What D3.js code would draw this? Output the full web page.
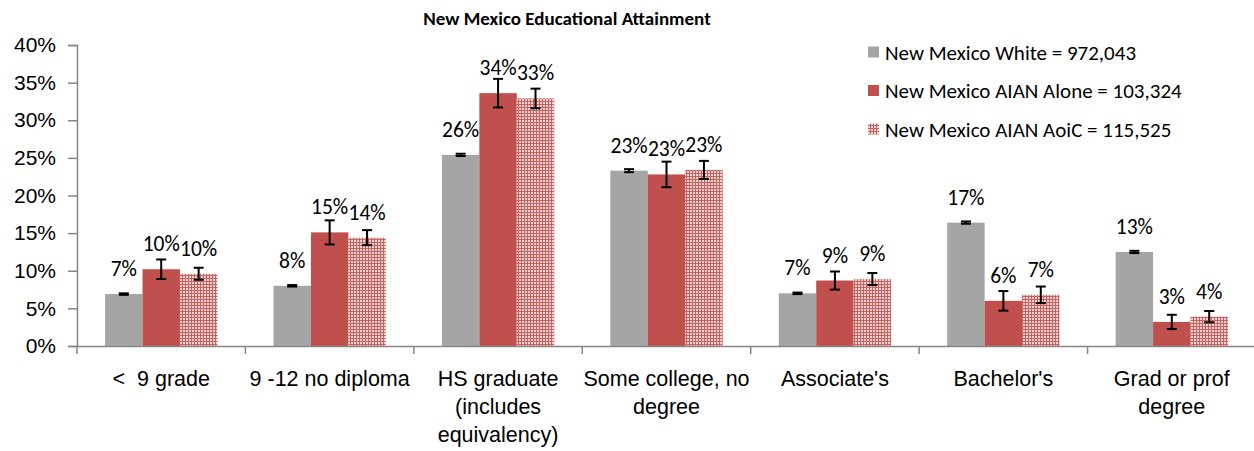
<!DOCTYPE html>
<html>
<head>
<meta charset="utf-8">
<script src="https://cdn.jsdelivr.net/npm/d3@7"></script>
<style>
    body { margin: 0; background: #fff; }
    svg { display: block; font-family: Carlito, Calibri, Lato, sans-serif; }
</style>
</head>
<body>
<div class="svg-target"></div>
<script>
// Data
const categories = ['<  9 grade', '9 -12 no diploma', 'HS graduate\n(includes\nequivalency)',
    'Some college, no\ndegree', "Associate's", "Bachelor's", 'Grad or prof\ndegree'];
const seriesNames = ['New Mexico White = 972,043', 'New Mexico AIAN Alone = 103,324', 'New Mexico AIAN AoiC = 115,525'];
const whiteVals = [0.069, 0.080, 0.254, 0.233, 0.070, 0.164, 0.125];
const aloneVals = [0.102, 0.151, 0.336, 0.228, 0.087, 0.060, 0.032];
const aoicVals  = [0.096, 0.144, 0.329, 0.234, 0.089, 0.068, 0.039];
const whiteErr = [0.001, 0.001, 0.0015, 0.002, 0.001, 0.0015, 0.0015];
const aloneErr = [0.013, 0.016, 0.019, 0.017, 0.012, 0.013, 0.0095];
const aoicErr  = [0.008, 0.010, 0.013, 0.012, 0.008, 0.011, 0.0075];
const labelText = [
    ['7%', '8%', '26%', '23%', '7%', '17%', '13%'],
    ['10%', '15%', '34%', '23%', '9%', '6%', '3%'],
    ['10%', '14%', '33%', '23%', '9%', '7%', '4%']
];
const yTicks = [0, 0.05, 0.10, 0.15, 0.20, 0.25, 0.30, 0.35, 0.40];

const w = 1254;
const h = 451;
const padding = {t: 45, r: -2, b: 105, l: 77};

const series = [
    {name: seriesNames[0], vals: whiteVals, err: whiteErr, fill: '#a5a5a5'},
    {name: seriesNames[1], vals: aloneVals, err: aloneErr, fill: '#c0504d'},
    {name: seriesNames[2], vals: aoicVals, err: aoicErr, fill: 'url(#checker)'}
];

const svg = d3.select('.svg-target')
    .append('svg')
    .attr('width', w)
    .attr('height', h);

// small checker pattern for the AoiC series
const pat = svg.append('defs').append('pattern')
    .attr('id', 'checker')
    .attr('width', 3).attr('height', 3)
    .attr('patternUnits', 'userSpaceOnUse');
pat.append('rect').attr('width', 3).attr('height', 3).attr('fill', '#c9625f');
pat.append('rect').attr('width', 2).attr('height', 2).attr('fill', '#efd3d3');

// Title
svg.append('text')
    .attr('x', 567)
    .attr('y', 25)
    .attr('text-anchor', 'middle')
    .attr('font-weight', 'bold')
    .attr('font-size', 19)
    .text('New Mexico Educational Attainment');

// scales
const xScale = d3.scaleBand()
    .domain(categories)
    .range([padding.l, w - padding.r])
    .padding(0);
const xInner = d3.scaleBand()
    .domain(d3.range(series.length))
    .range([0, xScale.bandwidth()])
    .paddingInner(0)
    .paddingOuter(0.75);
const yScale = d3.scaleLinear()
    .domain([0, 0.4])
    .range([h - padding.b, padding.t]);

// y axis
const yAxis = d3.axisLeft(yScale)
    .tickValues(yTicks)
    .tickSize(9)
    .tickPadding(12)
    .tickFormat(d3.format('.0%'));
const yG = svg.append('g')
    .attr('transform', `translate(${padding.l}, 0)`)
    .call(yAxis);
yG.select('.domain').attr('stroke', '#868686').attr('stroke-width', 1.5);
yG.selectAll('.tick line').attr('stroke', '#868686').attr('stroke-width', 1.5);
yG.selectAll('.tick text')
    .attr('font-family', null)
    .attr('font-size', 21)
    .attr('fill', '#000');

// bars
const groups = svg.selectAll('.series')
    .data(series)
    .join('g')
    .attr('class', 'series');

groups.each(function(s, si) {
    const g = d3.select(this);
    const rows = categories.map((c, i) => ({c, v: s.vals[i], e: s.err[i], t: labelText[si][i]}));
    g.selectAll('rect')
        .data(rows)
        .join('rect')
        .attr('x', d => xScale(d.c) + xInner(si))
        .attr('y', d => yScale(d.v))
        .attr('width', xInner.bandwidth())
        .attr('height', d => yScale(0) - yScale(d.v))
        .attr('fill', s.fill);

    // error bars
    const eb = g.selectAll('.err')
        .data(rows)
        .join('g')
        .attr('class', 'err')
        .attr('stroke', '#000')
        .attr('stroke-width', 2)
        .attr('transform', d => `translate(${xScale(d.c) + xInner(si) + xInner.bandwidth() / 2}, 0)`);
    eb.append('line')
        .attr('y1', d => yScale(d.v + d.e))
        .attr('y2', d => yScale(d.v - d.e));
    eb.append('line')
        .attr('x1', -5).attr('x2', 5)
        .attr('y1', d => yScale(d.v + d.e))
        .attr('y2', d => yScale(d.v + d.e));
    eb.append('line')
        .attr('x1', -5).attr('x2', 5)
        .attr('y1', d => yScale(d.v - d.e))
        .attr('y2', d => yScale(d.v - d.e));

    // value labels
    g.selectAll('.lbl')
        .data(rows)
        .join('text')
        .attr('class', 'lbl')
        .attr('x', d => xScale(d.c) + xInner(si) + xInner.bandwidth() / 2)
        .attr('y', d => yScale(d.v) - 18)
        .attr('text-anchor', 'middle')
        .attr('font-size', 21.5)
        .text(d => d.t);
});

// x axis
const xAxis = d3.axisBottom(xScale)
    .tickSize(0)
    .tickFormat('');
const xG = svg.append('g')
    .attr('transform', `translate(0, ${h - padding.b})`)
    .call(xAxis);
xG.select('.domain').attr('stroke', '#868686').attr('stroke-width', 1.5);
// tick marks at category boundaries
xG.selectAll('.bound')
    .data(categories)
    .join('line')
    .attr('x1', d => xScale(d))
    .attr('x2', d => xScale(d))
    .attr('y1', 0).attr('y2', 8)
    .attr('stroke', '#868686')
    .attr('stroke-width', 1.5);
// category labels, wrapped on \n
xG.selectAll('.cat')
    .data(categories)
    .join('text')
    .attr('class', 'cat')
    .attr('text-anchor', 'middle')
    .attr('font-size', 21.5)
    .attr('fill', '#000')
    .each(function(d) {
        const t = d3.select(this);
        d.split('\n').forEach((line, i) => {
            t.append('tspan')
                .attr('x', xScale(d) + xScale.bandwidth() / 2)
                .attr('y', 40 + i * 28)
                .attr('xml:space', 'preserve')
                .text(line);
        });
    });

// Legend
const legend = svg.append('g')
    .attr('transform', 'translate(868, 0)');
const items = legend.selectAll('g')
    .data(series)
    .join('g')
    .attr('transform', (d, i) => `translate(0, ${52 + i * 38.5})`);
items.append('rect')
    .attr('y', -5.5)
    .attr('width', 11).attr('height', 11)
    .attr('fill', d => d.fill);
items.append('text')
    .attr('x', 17)
    .attr('y', 7.5)
    .attr('font-size', 21)
    .text(d => d.name);
</script>
</body>
</html>
